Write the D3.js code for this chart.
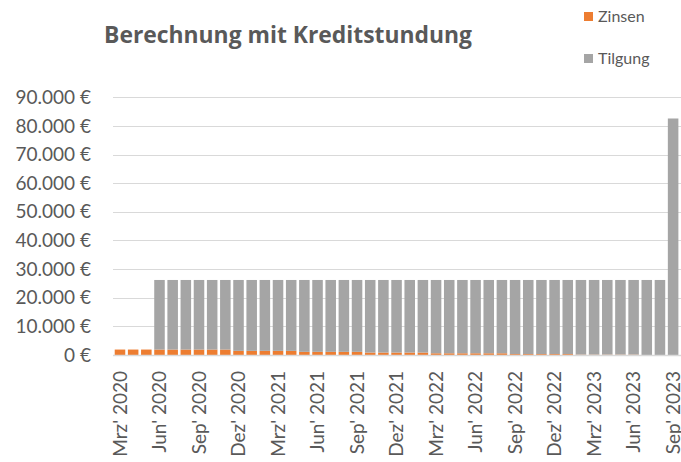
<!DOCTYPE html>
<html>
<head>
<meta charset="utf-8">
<script src="https://cdn.jsdelivr.net/npm/d3@7"></script>
<style>
  html, body { margin: 0; padding: 0; background: #fff; }
  svg { display: block; font-family: Lato, "Open Sans", sans-serif; }
</style>
</head>
<body>
<svg id="chart" width="681" height="462"></svg>
<script>
// ---- data ----
const months = ["Mrz' 2020","Apr' 2020","Mai' 2020","Jun' 2020","Jul' 2020","Aug' 2020","Sep' 2020","Okt' 2020","Nov' 2020","Dez' 2020",
  "Jan' 2021","Feb' 2021","Mrz' 2021","Apr' 2021","Mai' 2021","Jun' 2021","Jul' 2021","Aug' 2021","Sep' 2021","Okt' 2021","Nov' 2021","Dez' 2021",
  "Jan' 2022","Feb' 2022","Mrz' 2022","Apr' 2022","Mai' 2022","Jun' 2022","Jul' 2022","Aug' 2022","Sep' 2022","Okt' 2022","Nov' 2022","Dez' 2022",
  "Jan' 2023","Feb' 2023","Mrz' 2023","Apr' 2023","Mai' 2023","Jun' 2023","Jul' 2023","Aug' 2023","Sep' 2023"];
const zinsen = [1900,1900,1900,1900,1900,1900,1900,1900,1900,
  1450,1450,1450,1450,1450,
  1100,1100,1100,1100,1100,
  850,850,850,850,850,
  600,600,600,600,600,600,
  320,320,320,320,320,
  130,130,130,130,130,
  0,0,0];
const tilgung = [0,0,0,24300,24300,24300,24300,24300,24300,
  24750,24750,24750,24750,24750,
  25100,25100,25100,25100,25100,
  25350,25350,25350,25350,25350,
  25600,25600,25600,25600,25600,25600,
  25880,25880,25880,25880,25880,
  26070,26070,26070,26070,26070,
  26200,26200,82600];
const yTicks = [0,10000,20000,30000,40000,50000,60000,70000,80000,90000];
const seriesNames = ["Zinsen","Tilgung"];
const colors = ["#ED7D31","#A5A5A5"];
const title = "Berechnung mit Kreditstundung";

// ---- chart ----
const svg = d3.select("#chart");
const rows = months.map((m,i) => ({month: m, Zinsen: zinsen[i], Tilgung: tilgung[i]}));
const stack = d3.stack().keys(seriesNames)(rows);

const x = d3.scaleBand().domain(months).range([113.4, 679.7]).paddingInner(0.2).paddingOuter(0.1);
const y = d3.scaleLinear().domain([0, 90000]).range([355, 97.3]);

const fmt = v => (v === 0 ? "0" : d3.format(",")(v).replace(/,/g, ".")) + " €";

// gridlines
svg.append("g").selectAll("line").data(yTicks).join("line")
  .attr("x1", 113).attr("x2", 681)
  .attr("y1", d => Math.round(y(d)) + 0.5).attr("y2", d => Math.round(y(d)) + 0.5)
  .attr("stroke", "#d9d9d9").attr("stroke-width", 1);

// y labels
svg.append("g").selectAll("text").data(yTicks).join("text")
  .attr("x", 91).attr("y", d => y(d))
  .attr("dy", "0.35em").attr("text-anchor", "end")
  .attr("font-size", 19).attr("fill", "#595959")
  .text(fmt);

// bars
svg.append("g").selectAll("g").data(stack).join("g")
  .attr("fill", (d,i) => colors[i])
  .selectAll("rect").data(d => d).join("rect")
  .attr("x", d => x(d.data.month))
  .attr("width", x.bandwidth())
  .attr("y", d => y(d[1]))
  .attr("height", d => Math.max(0, y(d[0]) - y(d[1])));

// baseline
svg.append("line").attr("x1", 113).attr("x2", 681)
  .attr("y1", 355.5).attr("y2", 355.5).attr("stroke", "#d9d9d9").attr("stroke-width", 1.5);

// x labels
svg.append("g").selectAll("text").data(months.filter((m,i) => i % 3 === 0)).join("text")
  .attr("transform", d => `translate(${x(d) + x.bandwidth()/2},371) rotate(-90)`)
  .attr("dy", "0.35em").attr("text-anchor", "end")
  .attr("font-size", 19).attr("fill", "#595959")
  .text(d => d);

// title
const t = svg.append("text").attr("x", 288).attr("y", 43).attr("text-anchor", "middle")
  .attr("font-family", "'Open Sans', sans-serif")
  .attr("font-size", 20).attr("font-weight", "bold").attr("fill", "#595959")
  .text(title);
const tw = t.node().getComputedTextLength();
if (tw > 0) t.attr("font-size", 20 * 368 / tw);

// legend
const leg = svg.append("g").selectAll("g").data(seriesNames).join("g")
  .attr("transform", (d,i) => `translate(584,${12 + i*42})`);
leg.append("rect").attr("width", 9).attr("height", 9).attr("fill", (d,i) => colors[i]);
leg.append("text").attr("x", 14).attr("y", 4.5).attr("dy", "0.35em")
  .attr("font-size", 16).attr("fill", "#595959").text(d => d);
</script>
</body>
</html>
